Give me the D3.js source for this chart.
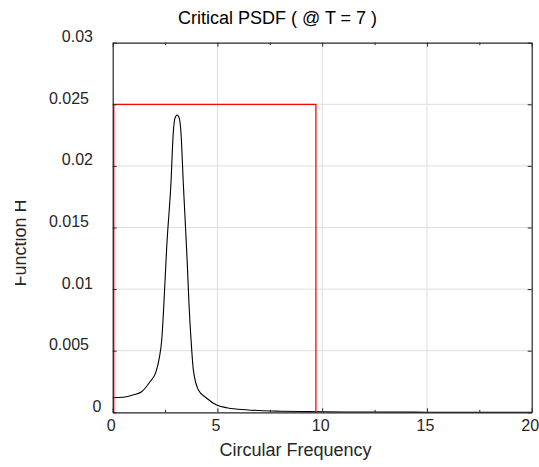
<!DOCTYPE html>
<html>
<head>
<meta charset="utf-8">
<script src="https://cdn.jsdelivr.net/npm/d3@7"></script>
<style>
  body { margin: 0; background: #fff; }
  svg { display: block; font-family: "Liberation Sans", Arial, Helvetica, sans-serif; }
  .grid line { stroke: #dedede; stroke-width: 1; }
  .axis path, .axis line { stroke: #262626; }
  .axis text { fill: #262626; font-size: 16px; }
</style>
</head>
<body>
<svg id="chart" width="539" height="467"></svg>
<script>
// PSDF curve
var freq = [0, 0.5, 1.0, 1.38, 1.78, 2.07, 2.22, 2.34, 2.42, 2.5, 2.58, 2.78, 2.89, 2.97,
            3.08, 3.18, 3.26, 3.37, 3.56, 3.64, 3.74, 3.85, 4.09, 4.49, 4.96, 5.44,
            6, 7, 8, 9, 10, 12, 15, 20];
var psdf = [0.00118, 0.00122, 0.00142, 0.00167, 0.00248, 0.0033, 0.00438, 0.00587, 0.00804,
            0.01074, 0.01344, 0.01859, 0.02265, 0.02386, 0.02413, 0.02386, 0.02265, 0.01859,
            0.01209, 0.00885, 0.00587, 0.00344, 0.00181, 0.00114, 0.00059, 0.00037,
            0.00025, 0.00014, 0.00009, 0.00006, 0.00004, 0.00002, 0.00001, 0.000005];

// red critical box
var boxX = [0.05, 0.05, 9.7, 9.7];
var boxY = [0, 0.025, 0.025, 0];

var xTicks = [0, 5, 10, 15, 20];
var xMinorTicks = [2.5, 7.5, 12.5, 17.5];
var yTicks = [0, 0.005, 0.01, 0.015, 0.02, 0.025, 0.03];
var yTickLabels = ['0', '0.005', '0.01', '0.015', '0.02', '0.025', '0.03'];

(function() {
  var box = { left: 112.7, right: 531.7, top: 42.7, bottom: 412.3 };

  var svg = d3.select('#chart');

  var x = d3.scaleLinear().domain([0, 20]).range([box.left, box.right]);
  var y = d3.scaleLinear().domain([0, 0.03]).range([box.bottom, box.top]);

  // grid
  var grid = svg.append('g').attr('class', 'grid');
  grid.selectAll('.gx')
      .data(xTicks.slice(1, -1))
    .enter().append('line')
      .attr('x1', function(d) { return x(d); })
      .attr('x2', function(d) { return x(d); })
      .attr('y1', box.top)
      .attr('y2', box.bottom);
  grid.selectAll('.gy')
      .data(yTicks.slice(1, -1))
    .enter().append('line')
      .attr('x1', box.left)
      .attr('x2', box.right)
      .attr('y1', function(d) { return y(d); })
      .attr('y2', function(d) { return y(d); });

  // data lines
  var line = d3.line()
      .x(function(d) { return x(d[0]); })
      .y(function(d) { return y(d[1]); });

  svg.append('path')
      .datum(d3.zip(freq, psdf))
      .attr('d', line.curve(d3.curveMonotoneX))
      .attr('fill', 'none')
      .attr('stroke', '#000')
      .attr('stroke-width', 1.1);

  svg.append('path')
      .datum(d3.zip(boxX, boxY))
      .attr('d', line.curve(d3.curveLinear))
      .attr('fill', 'none')
      .attr('stroke', '#ff0000')
      .attr('stroke-width', 1.3);

  // axes (ticks point inward, box on)
  var xAxis = svg.append('g')
      .attr('class', 'axis')
      .attr('transform', 'translate(0,' + box.bottom + ')')
      .call(d3.axisBottom(x).tickValues(xTicks).tickSizeInner(-4).tickSizeOuter(0).tickPadding(7.3));
  xAxis.selectAll('text').attr('dx', -2);

  svg.append('g')
      .attr('class', 'axis')
      .attr('transform', 'translate(0,' + box.bottom + ')')
      .call(d3.axisBottom(x).tickValues(xMinorTicks).tickSizeInner(-2.5).tickSizeOuter(0).tickFormat(''))
      .select('.domain').remove();

  svg.append('g')
      .attr('class', 'axis')
      .attr('transform', 'translate(0,' + box.top + ')')
      .call(d3.axisTop(x).tickValues(xTicks).tickSizeInner(-4).tickSizeOuter(0).tickFormat(''));

  svg.append('g')
      .attr('class', 'axis')
      .attr('transform', 'translate(0,' + box.top + ')')
      .call(d3.axisTop(x).tickValues(xMinorTicks).tickSizeInner(-2.5).tickSizeOuter(0).tickFormat(''))
      .select('.domain').remove();

  var yAxis = svg.append('g')
      .attr('class', 'axis')
      .attr('transform', 'translate(' + box.left + ',0)')
      .call(d3.axisLeft(y).tickValues(yTicks).tickSizeInner(-4).tickSizeOuter(0)
        .tickFormat(function(d, i) { return yTickLabels[i]; }));
  yAxis.selectAll('text')
      .attr('dy', '-0.06em')
      .attr('x', function(d, i) {
        var n = yTickLabels[i].length;
        return n === 1 ? -11.3 : (n === 5 ? -23.7 : -19.7);
      });

  svg.append('g')
      .attr('class', 'axis')
      .attr('transform', 'translate(' + box.right + ',0)')
      .call(d3.axisRight(y).tickValues(yTicks).tickSizeInner(-4).tickSizeOuter(0).tickFormat(''));

  svg.selectAll('.axis .domain').attr('stroke-width', 1.2);

  // title and labels
  svg.append('text')
      .attr('x', 277.5)
      .attr('y', 24)
      .attr('text-anchor', 'middle')
      .attr('font-size', 18)
      .attr('fill', '#000')
      .text('Critical PSDF ( @ T = 7 )');

  svg.append('text')
      .attr('x', 295.5)
      .attr('y', 456)
      .attr('text-anchor', 'middle')
      .attr('font-size', 18)
      .attr('fill', '#262626')
      .text('Circular Frequency');

  svg.append('clipPath')
      .attr('id', 'ylabel-clip')
    .append('rect')
      .attr('x', 15)
      .attr('y', 0)
      .attr('width', 100)
      .attr('height', 467);

  svg.append('g')
      .attr('clip-path', 'url(#ylabel-clip)')
    .append('text')
      .attr('transform', 'translate(26,243) rotate(-90)')
      .attr('text-anchor', 'middle')
      .attr('font-size', 18)
      .attr('fill', '#262626')
      .text('Function H');
})();
</script>
</body>
</html>
